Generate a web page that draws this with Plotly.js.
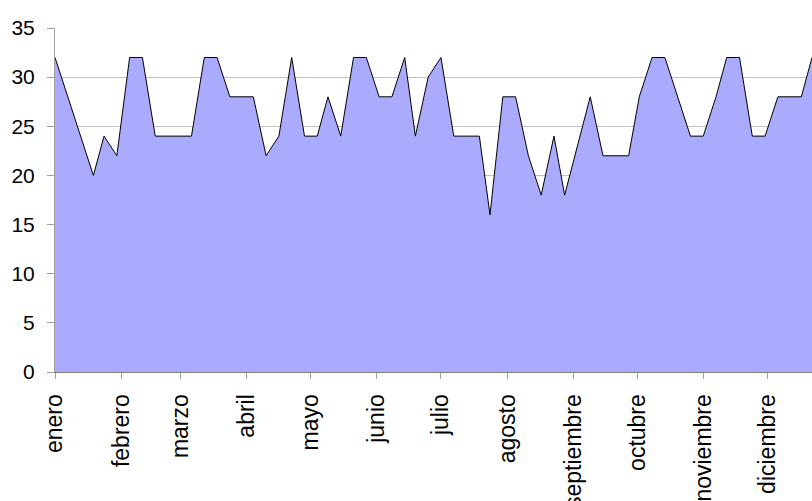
<!DOCTYPE html>
<html>
<head>
<meta charset="utf-8">
<script src="https://cdn.plot.ly/plotly-3.0.1.min.js"></script>
<style>
  html, body { margin: 0; padding: 0; background: #ffffff; }
  #chart { width: 812px; height: 501px; }
</style>
</head>
<body>
<div id="chart"></div>
<script>
// Dates of each reading
const fechas = [
  "2023-01-01","2023-01-07","2023-01-13","2023-01-19","2023-01-24","2023-01-30",
  "2023-02-05","2023-02-11","2023-02-17","2023-02-23","2023-02-28",
  "2023-03-06","2023-03-12","2023-03-18","2023-03-24","2023-03-30",
  "2023-04-04","2023-04-10","2023-04-16","2023-04-22","2023-04-28",
  "2023-05-04","2023-05-09","2023-05-15","2023-05-21","2023-05-27",
  "2023-06-02","2023-06-08","2023-06-14","2023-06-19","2023-06-25",
  "2023-07-01","2023-07-07","2023-07-13","2023-07-19","2023-07-24","2023-07-30",
  "2023-08-05","2023-08-11","2023-08-17","2023-08-23","2023-08-28",
  "2023-09-03","2023-09-09","2023-09-15","2023-09-21","2023-09-27",
  "2023-10-02","2023-10-08","2023-10-14","2023-10-20","2023-10-26",
  "2023-11-01","2023-11-07","2023-11-12","2023-11-18","2023-11-24","2023-11-30",
  "2023-12-06","2023-12-12","2023-12-17","2023-12-22"
];

// Series values
const valores = [
  32,28,24,20,24,22,32,32,24,24,
  24,24,32,32,28,28,28,22,24,32,
  24,24,28,24,32,32,28,28,32,24,
  30,32,24,24,24,16,28,28,22,18,
  24,18,23,28,22,22,22,28,32,32,
  28,24,24,28,32,32,24,24,28,28,
  28,32
];

// Month tick positions and labels
const mesesFechas = [
  "2023-01-01","2023-02-01","2023-03-01","2023-04-01","2023-05-01","2023-06-01",
  "2023-07-01","2023-08-01","2023-09-01","2023-10-01","2023-11-01","2023-12-01"
];
const mesesNombres = [
  "enero","febrero","marzo","abril","mayo","junio",
  "julio","agosto","septiembre","octubre","noviembre","diciembre"
];
const yTicks = [0,5,10,15,20,25,30,35];

const trace = {
  x: fechas,
  y: valores,
  type: "scatter",
  mode: "lines",
  fill: "tozeroy",
  fillcolor: "rgb(170,170,255)",
  line: { color: "#000000", width: 1 },
  hoverinfo: "skip"
};

const layout = {
  width: 812,
  height: 501,
  margin: { l: 55, r: 0, t: 28, b: 129, pad: 0 },
  paper_bgcolor: "#ffffff",
  plot_bgcolor: "#ffffff",
  showlegend: false,
  font: { family: "Liberation Sans, Arial, sans-serif", color: "#000000" },
  xaxis: {
    type: "date",
    range: ["2023-01-01", "2023-12-22"],
    tickmode: "array",
    tickvals: mesesFechas,
    ticktext: mesesNombres,
    tickangle: -90,
    ticks: "outside",
    ticklen: 6,
    tickcolor: "#a0a0a0",
    tickfont: { size: 23, family: "Liberation Sans, Arial, sans-serif", color: "#000000" },
    ticklabelstandoff: 6,
    showgrid: false,
    zeroline: false,
    showline: true,
    linecolor: "#808080",
    linewidth: 1
  },
  yaxis: {
    range: [0, 35],
    tickmode: "array",
    tickvals: yTicks,
    ticktext: yTicks.map(String),
    ticks: "outside",
    ticklen: 7,
    tickcolor: "#a0a0a0",
    tickfont: { size: 21, family: "Liberation Sans, Arial, sans-serif", color: "#000000" },
    ticklabelstandoff: 8,
    showgrid: true,
    gridcolor: "#c0c0c0",
    gridwidth: 1,
    zeroline: false,
    showline: true,
    linecolor: "#a0a0a0",
    linewidth: 1
  }
};

Plotly.newPlot("chart", [trace], layout, { staticPlot: true, displayModeBar: false });
</script>
</body>
</html>
